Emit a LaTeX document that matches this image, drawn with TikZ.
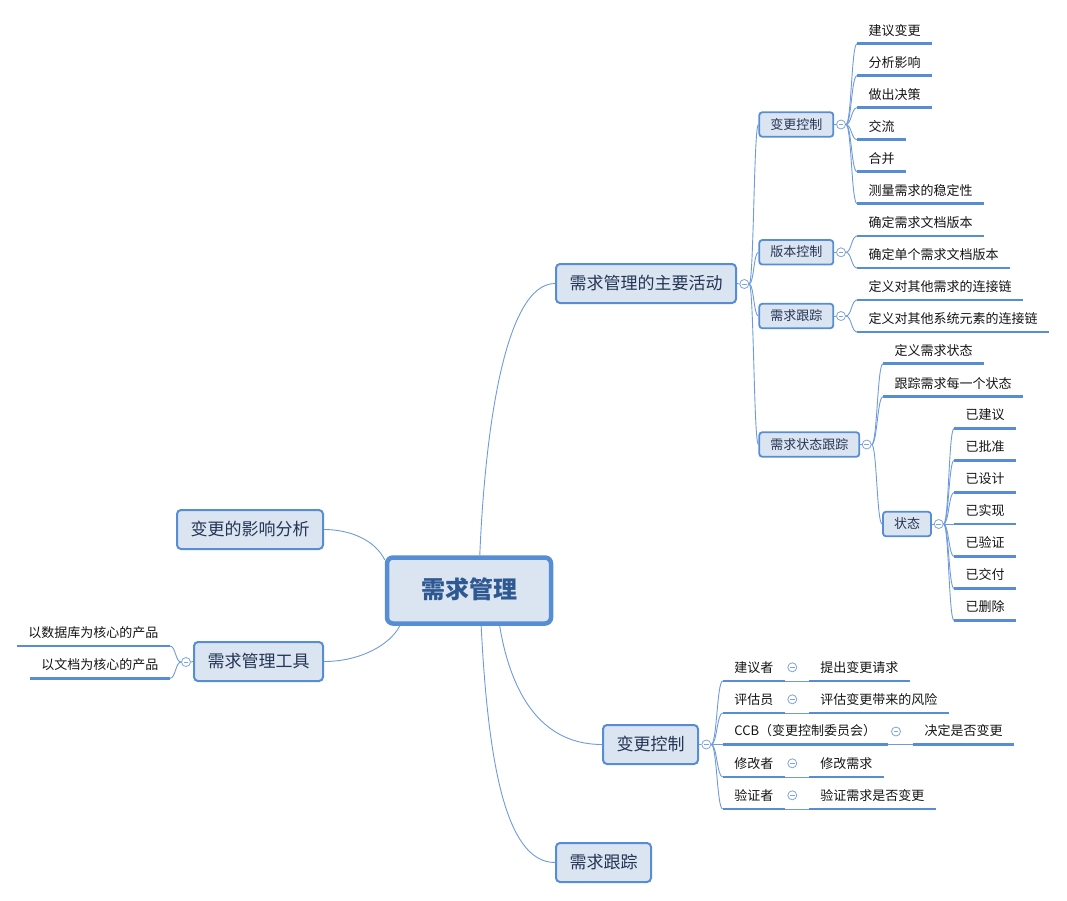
\documentclass[tikz,border=0pt]{standalone}
\usepackage{fontspec}
\setmainfont{Noto Sans CJK SC}
\usetikzlibrary{calc}
\definecolor{mindblue}{RGB}{86,141,213}
\definecolor{mindline}{RGB}{110,155,220}
\definecolor{mindfill}{RGB}{219,229,241}
\definecolor{boxtext}{RGB}{36,52,84}
\definecolor{roottext}{RGB}{46,88,146}
\definecolor{leaftext}{RGB}{20,20,20}
\definecolor{foldline}{RGB}{126,164,220}
\newcommand{\leaffont}{\fontsize{13}{15}\selectfont}
\newcommand{\minorfont}{\fontsize{13}{15}\selectfont}
\newcommand{\majorfont}{\fontsize{17}{20}\selectfont}
\newcommand{\centerfont}{\fontsize{24}{28}\selectfont\bfseries}

\begin{document}
\begin{tikzpicture}[x=1pt,y=-1pt,
  root/.style={draw=mindblue,line width=4.5pt,fill=mindfill,rounded corners=6pt,text=roottext,
    font=\centerfont,inner xsep=34pt,minimum height=66pt,text height=20pt,text depth=4pt},
  major/.style={draw=mindblue,line width=2pt,fill=mindfill,rounded corners=4pt,text=boxtext,
    font=\majorfont,inner xsep=13.5pt,minimum height=39pt,text height=14pt,text depth=3pt},
  minor/.style={draw=mindblue,line width=1.8pt,fill=mindfill,rounded corners=3pt,text=boxtext,
    font=\minorfont,inner xsep=11pt,minimum height=24.5pt,text height=11pt,text depth=2pt},
  uline/.style={draw=mindblue,line width=2.5pt},
  leaf/.style={anchor=south west,inner xsep=11.5pt,inner ysep=6.5pt,text height=11pt,text depth=2pt,
    text=leaftext,font=\leaffont,
    append after command={(\tikzlastnode.south west) edge[uline] (\tikzlastnode.south east)}},
  link/.style={draw=mindline,line width=0.9pt},
  spine/.style={to path={.. controls ($(\tikztostart)!0.5!(\tikztostart -| \tikztotarget)$)
    and ($(\tikztotarget)!0.5!(\tikztotarget -| \tikztostart)$) .. (\tikztotarget)}},
  fold/.style={circle,draw=foldline,line width=0.8pt,fill=white,minimum size=9pt,inner sep=0pt,
    path picture={\draw[foldline,line width=0.8pt] ([xshift=-2.4pt]path picture bounding box.center)
      -- ([xshift=2.4pt]path picture bounding box.center);}}]
  \useasboundingbox (0,0) rectangle (1067,900);

  % centre and main branches
  \node[root]  (root)   at (469,590.5)   {需求管理};
  \node[major] (act)    at (646,283.5)   {需求管理的主要活动};
  \node[major] (impact) at (250,529.5)   {变更的影响分析};
  \node[major] (tools)  at (258.5,661.5) {需求管理工具};
  \node[major] (chg)    at (650.5,744.5) {变更控制};
  \node[major] (trace)  at (603.5,862.5) {需求跟踪};

  \draw[link] (root.73)  .. controls (485,430) and (505,283.5) .. (act.west);
  \draw[link] (root.160) .. controls (375,540) and (350,529.5) .. (impact.east);
  \draw[link] (root.207) .. controls (390,645) and (360,661.5) .. (tools.east);
  \draw[link] (root.-49) .. controls (512,700) and (545,744.5) .. (chg.west);
  \draw[link] (root.-71) .. controls (488,760) and (505,862.5) .. (trace.west);

  % main activities
  \node[fold]  (actf) at (744.3,284)  {};
  \node[minor] (vc)   at (796.3,124.5) {变更控制};
  \node[minor] (ver)  at (796.3,252.3) {版本控制};
  \node[minor] (tr)   at (796.3,316)   {需求跟踪};
  \node[minor] (st)   at (809.3,444.5) {需求状态跟踪};
  \node[fold]  (vcf)  at (841,124.5)   {};
  \node[fold]  (verf) at (841,252.3)   {};
  \node[fold]  (trf)  at (841,316)     {};
  \node[fold]  (stf)  at (866.7,444.5) {};

  \draw[link] (act.east) -- (actf.west);
  \path[link] (actf.east) edge[spine] (vc.west) edge[spine] (ver.west)
                          edge[spine] (tr.west) edge[spine] (st.west);
  \draw[link] (vc.east) -- (vcf.west);
  \draw[link] (ver.east) -- (verf.west);
  \draw[link] (tr.east) -- (trf.west);
  \draw[link] (st.east) -- (stf.west);

  \node[leaf] (vc1) at (857,43.7)  {建议变更};
  \node[leaf] (vc2) at (857,75.7)  {分析影响};
  \node[leaf] (vc3) at (857,107.7) {做出决策};
  \node[leaf] (vc4) at (857,139.7) {交流};
  \node[leaf] (vc5) at (857,171.7) {合并};
  \node[leaf] (vc6) at (857,203.7) {测量需求的稳定性};
  \path[link] (vcf.east) edge[spine] (vc1.south west) edge[spine] (vc2.south west)
                         edge[spine] (vc3.south west) edge[spine] (vc4.south west)
                         edge[spine] (vc5.south west) edge[spine] (vc6.south west);

  \node[leaf] (ver1) at (857,236) {确定需求文档版本};
  \node[leaf] (ver2) at (857,268) {确定单个需求文档版本};
  \path[link] (verf.east) edge[spine] (ver1.south west) edge[spine] (ver2.south west);

  \node[leaf] (tr1) at (857,300) {定义对其他需求的连接链};
  \node[leaf] (tr2) at (857,332) {定义对其他系统元素的连接链};
  \path[link] (trf.east) edge[spine] (tr1.south west) edge[spine] (tr2.south west);

  \node[leaf]  (st1)  at (883,363.7) {定义需求状态};
  \node[leaf]  (st2)  at (883,396.7) {跟踪需求每一个状态};
  \node[minor] (sta)  at (907,524)   {状态};
  \node[fold]  (staf) at (938.7,524) {};
  \path[link] (stf.east) edge[spine] (st1.south west) edge[spine] (st2.south west)
                         edge[spine] (sta.west);
  \draw[link] (sta.east) -- (staf.west);

  \node[leaf] (sta1) at (954,428.5) {已建议};
  \node[leaf] (sta2) at (954,460.5) {已批准};
  \node[leaf] (sta3) at (954,492.5) {已设计};
  \node[leaf] (sta4) at (954,524)   {已实现};
  \node[leaf] (sta5) at (954,556.5) {已验证};
  \node[leaf] (sta6) at (954,588.5) {已交付};
  \node[leaf] (sta7) at (954,620.5) {已删除};
  \path[link] (staf.east) edge[spine] (sta1.south west) edge[spine] (sta2.south west)
                          edge[spine] (sta3.south west) edge[spine] (sta4.south west)
                          edge[spine] (sta5.south west) edge[spine] (sta6.south west)
                          edge[spine] (sta7.south west);

  % tools
  \node[fold] (toolsf) at (186,662) {};
  \node[leaf,anchor=south east] (db)  at (170,646)   {以数据库为核心的产品};
  \node[leaf,anchor=south east] (doc) at (170,678.3) {以文档为核心的产品};
  \draw[link] (tools.west) -- (toolsf.east);
  \path[link] (toolsf.west) edge[spine] (db.south east) edge[spine] (doc.south east);

  % change control roles
  \node[fold] (chgf) at (706.3,744.5) {};
  \draw[link] (chg.east) -- (chgf.west);
  \node[leaf] (p1) at (722.7,681)   {建议者};
  \node[leaf] (p2) at (722.7,713)   {评估员};
  \node[leaf] (p3) at (722.7,744.5) {CCB（变更控制委员会）};
  \node[leaf] (p4) at (722.7,777)   {修改者};
  \node[leaf] (p5) at (722.7,809)   {验证者};
  \path[link] (chgf.east) edge[spine] (p1.south west) edge[spine] (p2.south west)
                          edge[spine] (p3.south west) edge[spine] (p4.south west)
                          edge[spine] (p5.south west);

  \node[fold] (p1f) at (792.3,667.3) {};
  \node[fold] (p2f) at (792.3,699.3) {};
  \node[fold] (p3f) at (896,731.5)   {};
  \node[fold] (p4f) at (792.3,763.3) {};
  \node[fold] (p5f) at (792.3,795.3) {};
  \node[leaf] (q1) at (808.7,681)   {提出变更请求};
  \node[leaf] (q2) at (808.7,713)   {评估变更带来的风险};
  \node[leaf] (q3) at (913,744.5)   {决定是否变更};
  \node[leaf] (q4) at (808.7,777)   {修改需求};
  \node[leaf] (q5) at (808.7,809)   {验证需求是否变更};
  \draw[link] (p1.south east) -- (q1.south west);
  \draw[link] (p2.south east) -- (q2.south west);
  \draw[link] (p3.south east) -- (q3.south west);
  \draw[link] (p4.south east) -- (q4.south west);
  \draw[link] (p5.south east) -- (q5.south west);
\end{tikzpicture}
\end{document}
